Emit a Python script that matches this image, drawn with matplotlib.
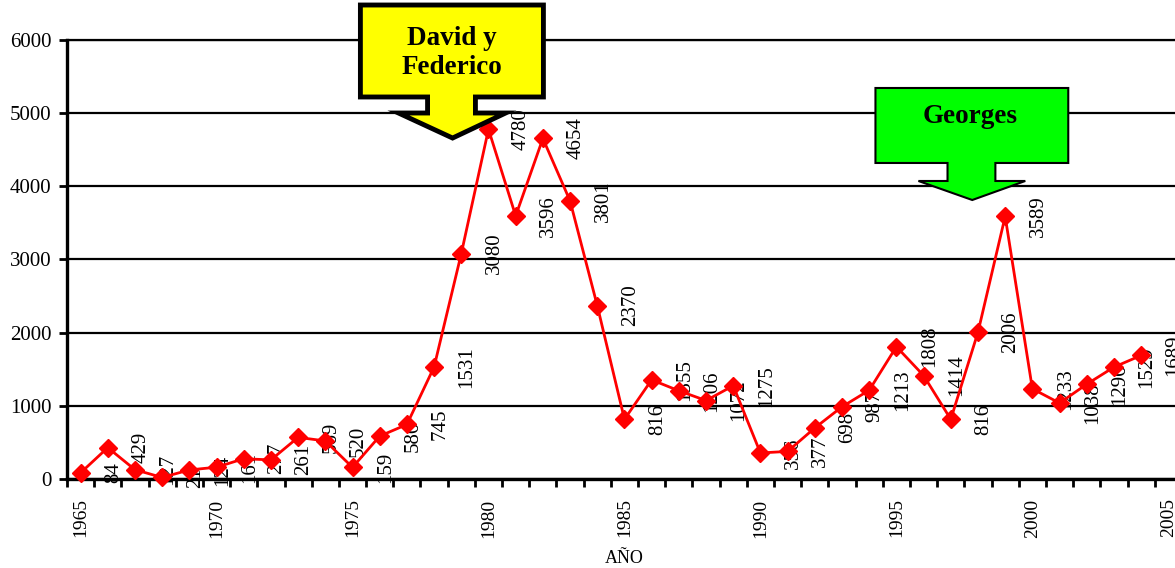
import numpy as np
import matplotlib.pyplot as plt
from matplotlib.patches import Polygon
from matplotlib.ticker import FixedLocator

plt.rcParams['font.family'] = ['Liberation Serif', 'DejaVu Serif']

# yearly values 1965-2004
years = np.arange(1965, 2005)
values = [84, 429, 127, 21, 124, 161, 277, 261, 569, 520,
          159, 586, 745, 1531, 3080, 4780, 3596, 4654, 3801, 2370,
          816, 1355, 1206, 1072, 1275, 356, 377, 698, 987, 1213,
          1808, 1414, 816, 2006, 3589, 1233, 1038, 1296, 1529, 1689]
tick_years = np.arange(1965, 2006, 5)


def callout(ax, x0, x1, y0, y1, sx0, sx1, sy, hx0, hx1, tip, face, lw):
    # box with a downward arrow, in data coordinates
    pts = [(x0, y1), (x1, y1), (x1, y0), (sx1, y0), (sx1, sy), (hx1, sy),
           tip, (hx0, sy), (sx0, sy), (sx0, y0), (x0, y0)]
    ax.add_patch(Polygon(pts, closed=True, facecolor=face, edgecolor='black',
                         lw=lw, joinstyle='miter', clip_on=False, zorder=5))


fig = plt.figure(figsize=(11.75, 5.68), dpi=100)
ax = fig.add_axes([0.057, 0.1567, 0.9489, 0.7729])

ax.plot(years, values, color='red', lw=2, marker='D', markersize=9.5,
        markeredgecolor='red', zorder=4, clip_on=False)
for x, v in zip(years, values):
    ax.annotate(str(v), (x, v), xytext=(33, 0), textcoords='offset pixels',
                rotation=90, ha='center', va='center', fontsize=15,
                annotation_clip=False, zorder=3)

ax.set_xlim(1964.5, 2005.5)
ax.set_ylim(0, 6000)
ax.set_yticks(np.arange(0, 6001, 1000))
ax.set_xticks(tick_years)
ax.set_xticklabels([str(y) for y in tick_years], rotation=90)
ax.xaxis.set_minor_locator(FixedLocator(np.arange(1964.5, 2006, 1)))
ax.tick_params(axis='x', which='major', length=0, pad=14, labelsize=14)
ax.tick_params(axis='x', which='minor', length=6, width=2, direction='out')
ax.tick_params(axis='y', length=6, width=2, pad=5, labelsize=15)

ax.yaxis.grid(True, color='black', lw=1.6)
ax.set_axisbelow(True)
ax.spines['right'].set_visible(False)
ax.spines['top'].set_linewidth(1.6)
ax.spines['left'].set_linewidth(2.4)
ax.spines['bottom'].set_linewidth(2.4)
ax.set_xlabel('AÑO', fontsize=13, labelpad=9)

callout(ax, 1975.29, 1982.02, 5221, 6478, 1977.76, 1979.52, 5002,
        1976.69, 1980.63, (1978.68, 4660), '#FFFF00', 3.5)
ax.text(1978.64, 5822, 'David y\nFederico', ha='center', va='center',
        fontsize=19.5, fontweight='bold', linespacing=1.25, zorder=6)

callout(ax, 1994.23, 2001.32, 4319, 5344, 1996.88, 1998.64, 4073,
        1995.81, 1999.74, (1997.79, 3813), '#00FF00', 1.5)
ax.text(1997.72, 4948, 'Georges', ha='center', va='center',
        fontsize=19.5, fontweight='bold', zorder=6)

fig.savefig('out.png', dpi=100)
